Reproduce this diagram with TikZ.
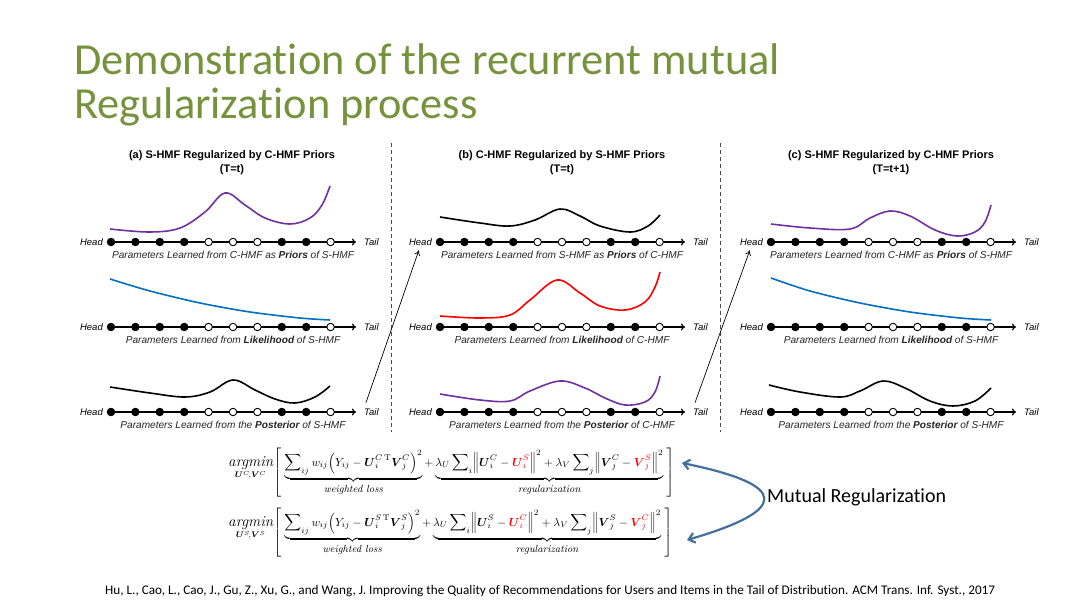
\documentclass[tikz,border=0pt]{standalone}
\usepackage{amsmath, amssymb}
\usepackage{graphicx}
\usepackage[no-math]{fontspec}
\setmainfont{Carlito}[Ligatures=NoCommon]
\newfontfamily\arialfont{Liberation Sans}
\newfontfamily\lmfont{Latin Modern Roman}
\usetikzlibrary{arrows.meta}

\definecolor{titlegreen}{RGB}{118,146,60}
\definecolor{curvepurple}{RGB}{112,48,160}
\definecolor{curveblue}{RGB}{0,112,192}
\definecolor{linkblue}{RGB}{65,113,156}

% tall brackets of the objectives, hanging below the baseline
\newcommand{\objlbrack}{\raisebox{-8.4pt}{$\delimiterfactor=1000\delimitershortfall=0pt\left[\rule[-17.2pt]{0pt}{39.4pt}\right.$}}
\newcommand{\objrbrack}{\raisebox{-8.4pt}{$\delimiterfactor=1000\delimitershortfall=0pt\left.\rule[-17.2pt]{0pt}{39.4pt}\right]$}}
\newcommand{\objlabel}[1]{\text{\lmfont\itshape\fontsize{8.8}{9}\selectfont #1}}

\tikzset{
  fdot/.style={circle, draw, line width=0.9pt, fill=black, inner sep=0pt, minimum size=7.5pt},
  odot/.style={circle, draw, line width=0.9pt, fill=white, inner sep=0pt, minimum size=7.5pt},
  axis/.style={-{To[length=4pt,width=7pt]}, line width=1.2pt},
  axlabel/.style={font=\arialfont\itshape\fontsize{9.5}{10}\selectfont, inner sep=0pt},
  caption/.style={font=\arialfont\itshape\fontsize{10.1}{11}\selectfont, inner sep=0pt, text=black!85},
  paneltitle/.style={font=\arialfont\bfseries\fontsize{11}{14}\selectfont, align=center, inner sep=0pt},
  curve/.style={line width=1.6pt},
  divider/.style={dash pattern=on 4pt off 3pt, line width=0.8pt, black!70},
  linkarrow/.style={-{To[length=5pt,width=6pt]}, line width=0.7pt, shorten <=6pt, shorten >=5pt},
  formula/.style={font=\fontsize{10}{12}\selectfont, inner sep=0pt, anchor=base west},
  title/.style={font=\fontsize{44.4}{46}\selectfont, text=titlegreen, inner sep=0pt, anchor=base west},
}

\begin{document}
\begin{tikzpicture}[x=1pt, y=-1pt]
  \fill[white] (0,0) rectangle (1080,607);
  \useasboundingbox (0,0) rectangle (1080,607);

  % Slide title
  \node[title] (title-l1) at (74,75) {Demonstration of the recurrent mutual};
  \node[title] (title-l2) at (74,119) {Regularization process};

  % Panel titles
  \node[paneltitle] (a-title) at (232,163) {(a) S-HMF Regularized by C-HMF Priors\\(T=t)};
  \node[paneltitle] (b-title) at (562,163) {(b) C-HMF Regularized by S-HMF Priors\\(T=t)};
  \node[paneltitle] (c-title) at (891,163) {(c) S-HMF Regularized by C-HMF Priors\\(T=t+1)};

  % Dividers
  \draw[divider] (391,143) -- (391,432);
  \draw[divider] (720,143) -- (720,432);

  % Head-to-tail axes
  \foreach \p/\xs in {a/111, b/440, c/771}{
    \foreach \r/\ys in {1/242, 2/327, 3/412}{
      \draw[axis] (\xs,\ys) -- ++(245,0) coordinate (\p\r-end);
      \foreach \s [count=\k from 0] in {fdot,fdot,fdot,fdot,odot,odot,odot,fdot,fdot,odot}
        \node[\s] (\p\r-\k) at ({\xs+24.4*\k},\ys) {};
      \node[axlabel, anchor=east] (\p\r-head) at ({\xs-8},\ys) {Head};
      \node[axlabel, anchor=west] (\p\r-tail) at ({\xs+253},\ys) {Tail};
    }
  }

  % Captions
  \node[caption] (a1-cap) at (233,255) {Parameters Learned from C-HMF as \textbf{Priors} of S-HMF};
  \node[caption] (a2-cap) at (233,340) {Parameters Learned from \textbf{Likelihood} of S-HMF};
  \node[caption] (a3-cap) at (233,425) {Parameters Learned from the \textbf{Posterior} of S-HMF};
  \node[caption] (b1-cap) at (562,255) {Parameters Learned from S-HMF as \textbf{Priors} of C-HMF};
  \node[caption] (b2-cap) at (562,340) {Parameters Learned from \textbf{Likelihood} of C-HMF};
  \node[caption] (b3-cap) at (562,425) {Parameters Learned from the \textbf{Posterior} of C-HMF};
  \node[caption] (c1-cap) at (891,255) {Parameters Learned from C-HMF as \textbf{Priors} of S-HMF};
  \node[caption] (c2-cap) at (891,340) {Parameters Learned from \textbf{Likelihood} of S-HMF};
  \node[caption] (c3-cap) at (891,425) {Parameters Learned from the \textbf{Posterior} of S-HMF};

  % Parameter curves
  \draw[curve, curvepurple] plot[smooth, tension=0.6] coordinates {(110,229) (150,232) (180,228) (205,212) (225,193) (245,205) (265,218) (290,224) (310,218) (322,205) (330,186)};
  \draw[curve, curveblue] plot[smooth] coordinates {(110,279) (150,291) (200,303) (250,312) (300,318) (330,320)};
  \draw[curve, black] plot[smooth, tension=0.6] coordinates {(110,387) (150,393) (185,397) (210,392) (233,380) (255,390) (275,399) (295,403) (315,397) (330,386)};

  \draw[curve, black] plot[smooth, tension=0.6] coordinates {(440,217) (480,223) (510,226) (535,220) (560,209) (580,216) (600,226) (630,232) (648,226) (660,215)};
  \draw[curve, red] plot[smooth, tension=0.6] coordinates {(440,316) (480,318) (510,315) (530,300) (557,280) (580,293) (600,306) (625,310) (645,302) (655,287) (660,272)};
  \draw[curve, curvepurple] plot[smooth, tension=0.6] coordinates {(440,394) (480,400) (510,401) (530,391) (560,381) (585,388) (605,398) (625,405) (645,402) (655,392) (660,376)};

  \draw[curve, curvepurple] plot[smooth, tension=0.6] coordinates {(771,224) (810,228) (850,229) (870,218) (890,211) (910,216) (935,230) (957,236) (975,232) (985,222) (991,205)};
  \draw[curve, curveblue] plot[smooth] coordinates {(771,278) (810,291) (860,303) (910,312) (960,318) (991,320)};
  \draw[curve, black] plot[smooth, tension=0.6] coordinates {(769,385) (800,392) (840,397) (860,391) (883,381) (905,388) (930,401) (953,406) (975,401) (991,388)};

  % Posterior becomes the next prior
  \draw[linkarrow] (a3-tail.north west) -- (b1-head.south);
  \draw[linkarrow] (b3-tail.north west) -- (c1-head.south);

  % Objectives
  \node[formula] (obj-c) at (228,466) {\scalebox{1.17}{$\underset{\boldsymbol{U}^{C}\!,\boldsymbol{V}^{C}}{\text{\lmfont\itshape\fontsize{13}{14}\selectfont argmin}}\objlbrack\underbrace{\displaystyle\sum\nolimits_{ij} w_{ij}\Bigl(Y_{ij}-\boldsymbol{U}_i^{C\,\mathrm{T}}\boldsymbol{V}_j^{C}\Bigr)^{2}}_{\objlabel{weighted loss}}+\underbrace{\lambda_U\displaystyle\sum\nolimits_i\Bigl\|\boldsymbol{U}_i^{C}-\textcolor{red}{\boldsymbol{U}_i^{S}}\Bigr\|^{2}+\lambda_V\displaystyle\sum\nolimits_j\Bigl\|\boldsymbol{V}_j^{C}-\textcolor{red}{\boldsymbol{V}_j^{S}}\Bigr\|^{2}}_{\objlabel{regularization}}\objrbrack$}};
  \node[formula] (obj-s) at (228,526) {\scalebox{1.17}{$\underset{\boldsymbol{U}^{S}\!,\boldsymbol{V}^{S}}{\text{\lmfont\itshape\fontsize{13}{14}\selectfont argmin}}\objlbrack\underbrace{\displaystyle\sum\nolimits_{ij} w_{ij}\Bigl(Y_{ij}-\boldsymbol{U}_i^{S\,\mathrm{T}}\boldsymbol{V}_j^{S}\Bigr)^{2}}_{\objlabel{weighted loss}}+\underbrace{\lambda_U\displaystyle\sum\nolimits_i\Bigl\|\boldsymbol{U}_i^{S}-\textcolor{red}{\boldsymbol{U}_i^{C}}\Bigr\|^{2}+\lambda_V\displaystyle\sum\nolimits_j\Bigl\|\boldsymbol{V}_j^{S}-\textcolor{red}{\boldsymbol{V}_j^{C}}\Bigr\|^{2}}_{\objlabel{regularization}}\objrbrack$}};

  % Mutual regularization
  \node[anchor=west, font=\fontsize{20}{22}\selectfont, inner sep=0pt] (mutual) at (767,497) {Mutual Regularization};
  \coordinate (mr-top) at (682,463);
  \coordinate (mr-bot) at (687,540);
  \draw[{Straight Barb[length=6pt,width=10pt]}-{Straight Barb[length=6pt,width=10pt]}, line width=2.2pt, linkblue] (mr-top) .. controls (790,485) and (790,510) .. (mr-bot);

  % Reference
  \node[anchor=base west, font=\fontsize{13.2}{15}\selectfont, inner sep=0pt] (cite) at (105,594) {Hu, L., Cao, L., Cao, J., Gu, Z., Xu, G., and Wang, J. Improving the Quality of Recommendations for Users and Items in the Tail of Distribution. ACM Trans. Inf. Syst., 2017};
\end{tikzpicture}
\end{document}
